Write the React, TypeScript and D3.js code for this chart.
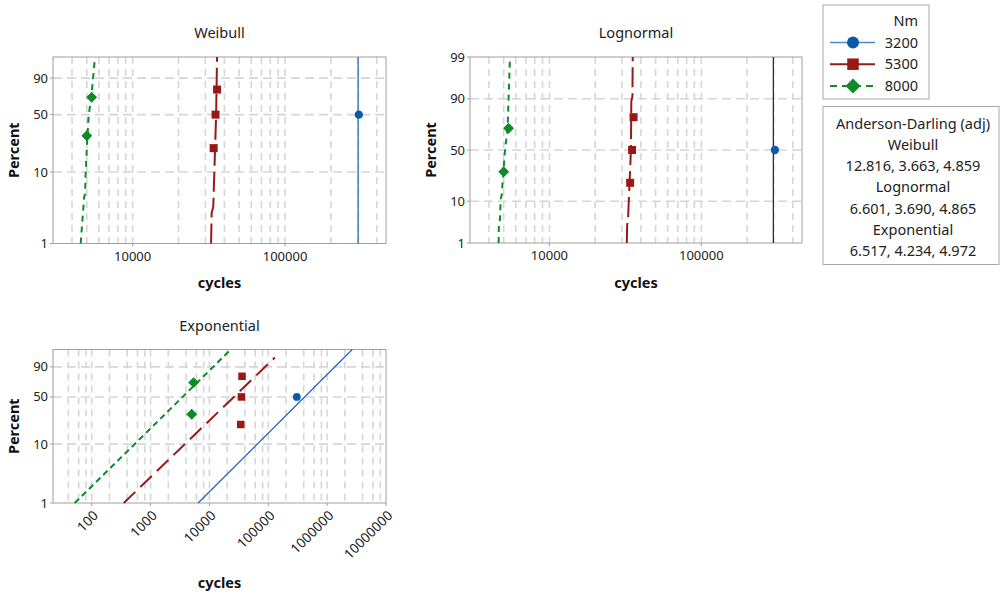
import React from "react";
import * as d3 from "d3";

// ---------- data ----------
const groups = ["3200", "5300", "8000"];
const groupTitle = "Nm";

const cycles3200 = [305000];
const pct3200 = [50];
const cycles5300 = [34000, 35000, 35800];
const pct5300 = [20.6, 50, 79.4];
const cycles8000 = [5000, 5380];
const pct8000 = [29.3, 70.7];

// fitted percentile lines: [percent, cycles]
const weibullFit3200 = [[1, 302000], [99, 302000]];
const weibullFit5300 = [[1, 32700], [2.7, 33000], [3.3, 33800], [50, 35300], [99, 35800]];
const weibullFit8000 = [[1, 4560], [4.5, 4800], [5, 4870], [10, 4920], [30, 5050], [50, 5150], [70, 5350], [99, 5660]];

const lognormalFit3200 = [[1, 298000], [99, 298000]];
const lognormalFit5300 = [[1, 32300], [3, 32500], [5, 33000], [50, 34400], [89, 34600], [91, 35200], [99, 35350]];
const lognormalFit8000 = [[1, 4630], [3.5, 4650], [4, 4720], [11, 4780], [13, 4850], [50, 5100], [70, 5300], [99, 5500]];

const exponentialFit3200 = [[1, 6430], [99, 2670000]];
const exponentialFit5300 = [[1, 350], [96.5, 129500]];
const exponentialFit8000 = [[1, 51.4], [99, 23100]];

const weibullPctTicks = [1, 10, 50, 90];
const lognormalPctTicks = [1, 10, 50, 90, 99];
const exponentialPctTicks = [1, 10, 50, 90];
const cycleTicksTop = [10000, 100000];
const cycleTicksExp = [100, 1000, 10000, 100000, 1000000, 10000000];

const adTitle = "Anderson-Darling (adj)";
const adNames = ["Weibull", "Lognormal", "Exponential"];
const adValues = ["12.816, 3.663, 4.859", "6.601, 3.690, 4.865", "6.517, 4.234, 4.972"];

// ---------- helpers ----------
function normInv(p: number): number {
  const a = [-39.69683028665376, 220.9460984245205, -275.9285104469687, 138.357751867269, -30.66479806614716, 2.506628277459239];
  const b = [-54.47609879822406, 161.5858368580409, -155.6989798598866, 66.80131188771972, -13.28068155288572];
  const c = [-0.007784894002430293, -0.3223964580411365, -2.400758277161838, -2.549732539343734, 4.374664141464968, 2.938163982698783];
  const d = [0.007784695709041462, 0.3224671290700398, 2.445134137142996, 3.754408661907416];
  const pl = 0.02425;
  if (p < pl) {
    const q = Math.sqrt(-2 * Math.log(p));
    return (((((c[0] * q + c[1]) * q + c[2]) * q + c[3]) * q + c[4]) * q + c[5]) / ((((d[0] * q + d[1]) * q + d[2]) * q + d[3]) * q + 1);
  }
  if (p > 1 - pl) {
    const q = Math.sqrt(-2 * Math.log(1 - p));
    return -(((((c[0] * q + c[1]) * q + c[2]) * q + c[3]) * q + c[4]) * q + c[5]) / ((((d[0] * q + d[1]) * q + d[2]) * q + d[3]) * q + 1);
  }
  const q = p - 0.5;
  const r = q * q;
  return (((((a[0] * r + a[1]) * r + a[2]) * r + a[3]) * r + a[4]) * r + a[5]) * q / (((((b[0] * r + b[1]) * r + b[2]) * r + b[3]) * r + b[4]) * r + 1);
}
const weibullT = (pct: number) => Math.log(-Math.log(1 - pct / 100));
const normalT = (pct: number) => normInv(pct / 100);

const FONT = "'Noto Sans', 'Open Sans', sans-serif";
const colors: Record<string, string> = { "3200": "#0B5AA8", "5300": "#991818", "8000": "#0E8A2A" };
const gridColor = "#d6d6d6";

type Style = { color: string; width: number; dash?: string };

function Marker({ g, x, y, s }: { g: string; x: number; y: number; s: number }) {
  const c = colors[g];
  if (g === "3200") return <circle cx={x} cy={y} r={s * 0.52} fill={c} />;
  if (g === "5300") return <rect x={x - s / 2} y={y - s / 2} width={s} height={s} fill={c} />;
  const h = s * 0.68;
  return <path d={`M${x},${y - h}L${x + h},${y}L${x},${y + h}L${x - h},${y}Z`} fill={c} />;
}

type PanelProps = {
  title: string;
  x0: number; x1: number; y0: number; y1: number;
  xDomain: [number, number];
  transform: (p: number) => number;
  pctTicks: number[];
  xTicks: number[];
  minorMults: number[];
  rotateX?: boolean;
  fits: number[][][];
  styles: Style[];
  markerSizes: number[];
  xLabelY: number;
};

function Panel(p: PanelProps) {
  const x = d3.scaleLog().domain(p.xDomain).range([p.x0, p.x1]);
  const yT = d3.scaleLinear().domain([p.transform(1), p.transform(99)]).range([p.y1, p.y0]);
  const y = (pct: number) => yT(p.transform(pct));
  const grid: number[] = [];
  const lo = Math.floor(Math.log10(p.xDomain[0]));
  const hi = Math.ceil(Math.log10(p.xDomain[1]));
  for (let e = lo; e <= hi; e++) {
    for (const m of p.minorMults) {
      const v = m * Math.pow(10, e);
      if (v > p.xDomain[0] * 1.001 && v < p.xDomain[1] * 0.999) grid.push(v);
    }
  }
  const line = d3.line<number[]>().x((d) => x(d[1])).y((d) => y(d[0]));
  const dataSets = [
    { g: "3200", c: cycles3200, pc: pct3200 },
    { g: "5300", c: cycles5300, pc: pct5300 },
    { g: "8000", c: cycles8000, pc: pct8000 },
  ];
  const cx = (p.x0 + p.x1) / 2;
  const cy = (p.y0 + p.y1) / 2;
  return (
    <g>
      <text x={cx} y={p.y0 - 19} textAnchor="middle" fontSize={14.5} fill="#222">{p.title}</text>
      {grid.map((v, i) => (
        <line key={"gx" + i} x1={x(v)} x2={x(v)} y1={p.y0} y2={p.y1} stroke={gridColor} strokeWidth={1.6} strokeDasharray="7,5" />
      ))}
      {p.pctTicks.filter((t) => t > 1 && t < 99).map((t) => (
        <line key={"gy" + t} x1={p.x0} x2={p.x1} y1={y(t)} y2={y(t)} stroke={gridColor} strokeWidth={1.6} strokeDasharray="9,5" />
      ))}
      <rect x={p.x0} y={p.y0} width={p.x1 - p.x0} height={p.y1 - p.y0} fill="none" stroke="#a0a0a0" strokeWidth={1} />
      {p.pctTicks.map((t) => (
        <g key={"ty" + t}>
          <line x1={p.x0 - 3} x2={p.x0} y1={y(t)} y2={y(t)} stroke="#a0a0a0" />
          <text x={p.x0 - 5} y={y(t)} dy="0.35em" textAnchor="end" fontSize={13} fill="#222">{t}</text>
        </g>
      ))}
      {p.xTicks.map((t) => (
        <g key={"tx" + t}>
          <line x1={x(t)} x2={x(t)} y1={p.y1} y2={p.y1 + 3} stroke="#a0a0a0" />
          {p.rotateX ? (
            <text transform={`translate(${x(t) + 4},${p.y1 + 10}) rotate(-45)`} textAnchor="end" dy="0.35em" fontSize={13.5} fill="#222">{t}</text>
          ) : (
            <text x={x(t)} y={p.y1 + 17} textAnchor="middle" fontSize={13} fill="#222">{t}</text>
          )}
        </g>
      ))}
      <text transform={`translate(${p.x0 - 34},${cy}) rotate(-90)`} textAnchor="middle" fontSize={14.5} fontWeight="bold" fill="#111">Percent</text>
      <text x={cx} y={p.xLabelY} textAnchor="middle" fontSize={14.5} fontWeight="bold" fill="#111">cycles</text>
      <g>
        {p.fits.map((f, i) => (
          <path key={"f" + i} d={line(f) || ""} fill="none" stroke={p.styles[i].color} strokeWidth={p.styles[i].width} strokeDasharray={p.styles[i].dash} />
        ))}
      </g>
      {dataSets.map((ds, i) =>
        ds.c.map((v, j) => <Marker key={ds.g + j} g={ds.g} x={x(v)} y={y(ds.pc[j])} s={p.markerSizes[i]} />)
      )}
    </g>
  );
}

export default function App() {
  const lx = 823, ly = 5;
  return (
    <svg width={1000} height={594} style={{ position: "absolute", left: 0, top: 0, fontFamily: FONT, background: "#fff" }}>
      <rect width={1000} height={594} fill="#fff" />
      <Panel
        title="Weibull" x0={53} x1={386} y0={57} y1={243.5}
        xDomain={[3000, 460000]} transform={weibullT} pctTicks={weibullPctTicks}
        xTicks={cycleTicksTop} minorMults={[1, 2, 3, 4, 5, 6, 7, 8, 9]}
        fits={[weibullFit3200, weibullFit5300, weibullFit8000]}
        styles={[{ color: "#4F86C6", width: 1.6 }, { color: colors["5300"], width: 2, dash: "20,6" }, { color: colors["8000"], width: 2, dash: "6,5" }]}
        markerSizes={[8, 8, 8]} xLabelY={288}
      />
      <Panel
        title="Lognormal" x0={470} x1={802} y0={57} y1={243}
        xDomain={[3000, 460000]} transform={normalT} pctTicks={lognormalPctTicks}
        xTicks={cycleTicksTop} minorMults={[1, 2, 3, 4, 5, 6, 7, 8, 9]}
        fits={[lognormalFit3200, lognormalFit5300, lognormalFit8000]}
        styles={[{ color: "#14306e", width: 1.3 }, { color: colors["5300"], width: 2, dash: "20,6" }, { color: colors["8000"], width: 2, dash: "6,5" }]}
        markerSizes={[8, 8, 8]} xLabelY={288}
      />
      <Panel
        title="Exponential" x0={53} x1={386} y0={349.5} y1={503}
        xDomain={[22, 10000000]} transform={weibullT} pctTicks={exponentialPctTicks}
        xTicks={cycleTicksExp} minorMults={[1, 2, 4, 6, 8]} rotateX
        fits={[exponentialFit3200, exponentialFit5300, exponentialFit8000]}
        styles={[{ color: "#1F63C0", width: 1.2 }, { color: colors["5300"], width: 2, dash: "16,7" }, { color: colors["8000"], width: 2, dash: "6,4" }]}
        markerSizes={[7.5, 7.5, 8]} xLabelY={588}
      />
      {/* legend */}
      <rect x={lx} y={ly} width={106} height={94} fill="#fff" stroke="#a8a8a8" />
      <text x={918} y={26} textAnchor="end" fontSize={14.5} fill="#222">{groupTitle}</text>
      {groups.map((g, i) => {
        const yy = 42.5 + i * 21.7;
        const st = i === 0 ? { w: 1.5, d: undefined, c: "#4F86C6" } : i === 1 ? { w: 2, d: undefined, c: colors[g] } : { w: 2, d: "7,5", c: colors[g] };
        return (
          <g key={g}>
            <line x1={830} x2={875} y1={yy} y2={yy} stroke={st.c} strokeWidth={st.w} strokeDasharray={st.d} />
            <Marker g={g} x={853} y={yy} s={i === 2 ? 11 : 11.5} />
            <text x={918} y={yy} dy="0.35em" textAnchor="end" fontSize={14.5} fill="#222">{g}</text>
          </g>
        );
      })}
      <rect x={823} y={106.5} width={176} height={158} fill="#fff" stroke="#a8a8a8" />
      <text x={913} y={123.5} dy="0.35em" textAnchor="middle" fontSize={14.5} fill="#222">{adTitle}</text>
      {adNames.map((n, i) => (
        <g key={n}>
          <text x={913} y={144.5 + i * 42.8} dy="0.35em" textAnchor="middle" fontSize={14.5} fill="#222">{n}</text>
          <text x={913} y={165.8 + i * 42.8} dy="0.35em" textAnchor="middle" fontSize={14.5} fill="#222">{adValues[i]}</text>
        </g>
      ))}
    </svg>
  );
}
